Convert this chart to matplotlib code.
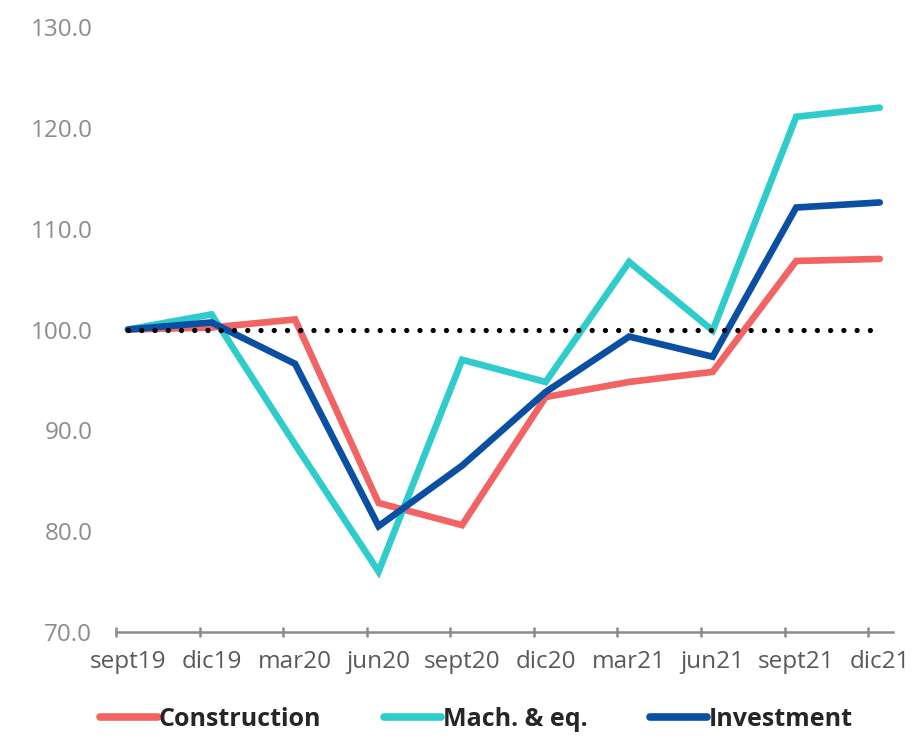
import matplotlib
matplotlib.use("Agg")
import matplotlib.pyplot as plt
import numpy as np

plt.rcParams['font.family'] = ['Open Sans', 'DejaVu Sans']

quarters = ["sept19", "dic19", "mar20", "jun20", "sept20", "dic20",
            "mar21", "jun21", "sept21", "dic21"]
construction = [100.0, 100.2, 101.0, 82.8, 80.6, 93.3, 94.8, 95.8, 106.8, 107.0]
mach_eq = [100.0, 101.5, 88.6, 76.0, 97.0, 94.8, 106.7, 99.9, 121.1, 122.0]
investment = [100.0, 100.7, 96.6, 80.5, 86.5, 93.8, 99.3, 97.3, 112.1, 112.6]
baseline = 100.0
y_ticks = [70, 80, 90, 100, 110, 120, 130]

c_red = "#F26464"
c_teal = "#2ECCCB"
c_blue = "#0B4FA3"

fig = plt.figure(figsize=(9.16, 7.38), dpi=100)
ax = fig.add_axes([0.1266, 0.1436, 0.975 - 0.1266, 0.9634 - 0.1436])

x = np.arange(len(quarters))
ax.plot(x, [baseline] * len(x), color="black", lw=3.8,
        linestyle=(0, (0.01, 2.5)), dash_capstyle="round", zorder=5)
ax.plot(x, construction, color=c_red, lw=4.8, solid_capstyle="round",
        solid_joinstyle="miter", label="Construction", zorder=2)
ax.plot(x, mach_eq, color=c_teal, lw=4.8, solid_capstyle="round",
        solid_joinstyle="miter", label="Mach. & eq.", zorder=3)
ax.plot(x, investment, color=c_blue, lw=4.8, solid_capstyle="round",
        solid_joinstyle="miter", label="Investment", zorder=4)

ax.set_xlim(-0.144, 9.16)
ax.set_ylim(70, 130)

ax.set_yticks(y_ticks)
ax.set_yticklabels([f"{v:.1f}" for v in y_ticks], color="#8C8C8C", fontsize=17.5)
ax.tick_params(axis="y", length=0, pad=17)

ax.set_xticks(x)
ax.set_xticklabels(quarters, color="#595959", fontsize=17.5)
ax.tick_params(axis="x", which="major", length=0, pad=13)
ax.set_xticks(x - 0.14, minor=True)
ax.tick_params(axis="x", which="minor", length=7, width=1.8, color="#8C8C8C",
               direction="inout")

for s in ["top", "right", "left"]:
    ax.spines[s].set_visible(False)
ax.spines["bottom"].set_color("#8C8C8C")
ax.spines["bottom"].set_linewidth(1.8)

leg = fig.legend(loc="lower center", ncol=3, frameon=False,
                 bbox_to_anchor=(0.52, -0.022), handlelength=2.3,
                 handletextpad=0.05, columnspacing=2.5,
                 prop={"weight": "bold", "size": 18})
for t in leg.get_texts():
    t.set_color("#262626")
for h in leg.get_lines():
    h.set_linewidth(5.5)
    h.set_solid_capstyle("round")

fig.savefig("out.png", dpi=100)
